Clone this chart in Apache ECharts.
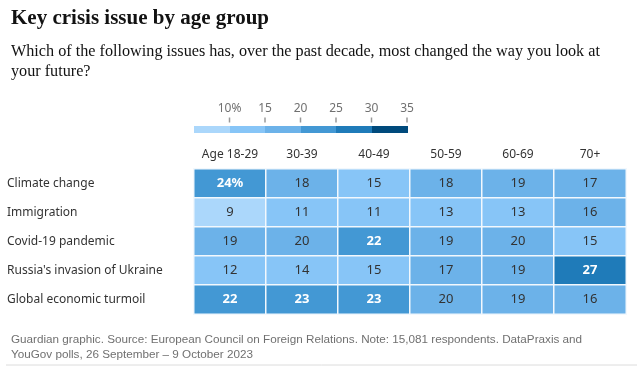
<!DOCTYPE html>
<html><head><meta charset="utf-8">
<script src="https://cdn.jsdelivr.net/npm/echarts@6/dist/echarts.min.js"></script>
<style>html,body{margin:0;padding:0;background:#fff}#c{width:643px;height:367px}</style>
</head><body><div id="c"></div>
<script>
const ageGroups = ['Age 18-29','30-39','40-49','50-59','60-69','70+'];
const issues = ['Climate change','Immigration','Covid-19 pandemic',"Russia's invasion of Ukraine",'Global economic turmoil'];
const climateChange = [24,18,15,18,19,17];
const immigration = [9,11,11,13,13,16];
const covid = [19,20,22,19,20,15];
const russiaUkraine = [12,14,15,17,19,27];
const economicTurmoil = [22,23,23,20,19,16];
const rows = [climateChange, immigration, covid, russiaUkraine, economicTurmoil];
const legendBreaks = [5,10,15,20,25,30,35];
const legendTicks = [10,15,20,25,30,35];

const palette = ['#abd7fb','#87c5f7','#6cb2e9','#4398d4','#1f7bb9','#004a7c'];

const heatData = [];
rows.forEach((r, yi) => r.forEach((v, xi) => {
  heatData.push({value:[xi, yi, v], label:{color: v > 20 ? '#ffffff' : '#333333', fontWeight: v > 20 ? 'bold' : 'normal'}});
}));
const legendData = [];
for (let i = 0; i < legendBreaks.length - 1; i++) legendData.push([legendBreaks[i], legendBreaks[i+1], i, 0]);
const tickData = legendTicks.map(v => [v, 0.5]);

const pieces = [];
for (let i = 0; i < legendBreaks.length - 1; i++) {
  const p = {lte: legendBreaks[i+1], color: palette[i]};
  if (i > 0) p.gt = legendBreaks[i];
  pieces.push(p);
}

const chart = echarts.init(document.getElementById('c'));
const sans = 'Noto Sans';
chart.setOption({
  animation:false,
  title:[
    {text:'Key crisis issue by age group', left:6, top:3, textStyle:{fontFamily:'Liberation Serif', fontWeight:'bold', fontSize:21, color:'#121212'}},
    {text:'Which of the following issues has, over the past decade, most changed the way you look at\nyour future?', left:6, top:37, textStyle:{fontFamily:'Liberation Serif', fontWeight:'normal', fontSize:16.2, lineHeight:20, color:'#121212'}},
    {text:'Guardian graphic. Source: European Council on Foreign Relations. Note: 15,081 respondents. DataPraxis and\nYouGov polls, 26 September – 9 October 2023', left:6, top:327, textStyle:{fontFamily:'Liberation Sans', fontWeight:'normal', fontSize:11.7, lineHeight:15, color:'#707070'}}
  ],
  graphic:[{type:'line', shape:{x1:6,y1:365,x2:637,y2:365}, style:{stroke:'#dcdcdc', lineWidth:1}}],
  visualMap:{type:'piecewise', show:false, seriesIndex:0, dimension:2, pieces:pieces},
  grid:[
    {left:194, top:169, width:432, height:145},
    {left:194, top:118, width:213, height:4}
  ],
  xAxis:[
    {type:'category', gridIndex:0, data:ageGroups, position:'top', axisLine:{show:false}, axisTick:{show:false}, splitLine:{show:false},
     axisLabel:{interval:0, margin:8, fontFamily:sans, fontSize:12, color:'#333'}},
    {type:'value', gridIndex:1, min:5, max:35, interval:5, position:'top', axisLine:{show:false}, axisTick:{show:false}, splitLine:{show:false},
     axisLabel:{margin:3, showMinLabel:false, fontFamily:sans, fontSize:12, color:'#707070', formatter:v => v === 5 ? '' : (v === 10 ? '10%' : String(v))}}
  ],
  yAxis:[
    {type:'category', gridIndex:0, data:issues, inverse:true, axisLine:{show:false}, axisTick:{show:false}, splitLine:{show:false},
     axisLabel:{margin:187, align:'left', fontFamily:sans, fontSize:12, color:'#333'}},
    {type:'value', gridIndex:1, min:0, max:1, show:false, splitLine:{show:false}}
  ],
  series:[
    {type:'heatmap', xAxisIndex:0, yAxisIndex:0, data:heatData,
     itemStyle:{borderColor:'#f2f8fd', borderWidth:1.5},
     label:{show:true, fontFamily:sans, fontSize:13, formatter:p => (p.value[0]===0 && p.value[1]===0) ? p.value[2]+'%' : String(p.value[2])}},
    {type:'custom', xAxisIndex:1, yAxisIndex:1, data:legendData, encode:{x:[0,1], y:3}, clip:false, z:3,
     renderItem:(params, api) => {
       const a = api.coord([api.value(0), 0]);
       const b = api.coord([api.value(1), 0]);
       const cs = params.coordSys;
       const c = palette[api.value(2)];
       return {type:'rect', shape:{x:Math.round(a[0]), y:cs.y+cs.height+4, width:Math.round(b[0])-Math.round(a[0])+1, height:7}, style:{fill:c, stroke:null}};
     }},
    {type:'scatter', xAxisIndex:1, yAxisIndex:1, data:tickData, silent:true, z:5,
     symbol:'rect', symbolSize:[1.5, 5], itemStyle:{color:'#999999', opacity:1}}
  ]
});
</script></body></html>
